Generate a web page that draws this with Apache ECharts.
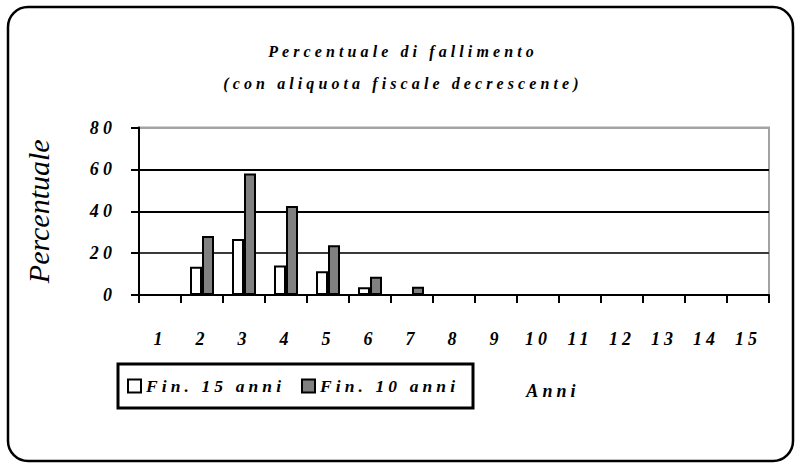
<!DOCTYPE html>
<html>
<head>
<meta charset="utf-8">
<script src="https://cdn.jsdelivr.net/npm/echarts@6/dist/echarts.min.js"></script>
<style>
  html, body { margin: 0; padding: 0; background: #fff; }
  #chart { width: 802px; height: 465px; }
  /* spaced-out lettering used throughout the chart texts */
  #chart svg text { letter-spacing: 4.1px; }
</style>
</head>
<body>
<div id="chart"></div>
<script>
// Years on the horizontal axis
const years = ['1', '2', '3', '4', '5', '6', '7', '8', '9', '10', '11', '12', '13', '14', '15'];
// Failure percentage per year, two financing horizons
const fin15 = [0, 13.5, 26.8, 14.1, 11.4, 3.7, 0, 0, 0, 0, 0, 0, 0, 0, 0];
const fin10 = [0, 28.2, 58.0, 42.5, 23.8, 8.7, 4.0, 0, 0, 0, 0, 0, 0, 0, 0];
const seriesNames = ['Fin. 15 anni', 'Fin. 10 anni'];
const titleLines = ['Percentuale di fallimento', '(con aliquota fiscale decrescente)'];
const yName = 'Percentuale';
const xName = 'Anni';
const yMin = 0, yMax = 80, yStep = 20;

const SERIF = '"Liberation Serif", "Times New Roman", serif';
const LABEL_SIZE = 18;
const labelFont = {
  fontFamily: SERIF, fontStyle: 'italic', fontWeight: 'bold', fontSize: LABEL_SIZE, color: '#000'
};

// Legend geometry: the library lays items out from unspaced text widths,
// so the gap and right padding are derived from a measurement here.
const LEG_LEFT = 118, LEG_RIGHT = 471, LEG_ICON = 13, LEG_TEXT_GAP = 5;
const LEG_PAD_L = 9, ITEM2_X = 300, LEG_LABEL_SIZE = 17.5;
const measureCtx = document.createElement('canvas').getContext('2d');
measureCtx.font = 'italic bold ' + LEG_LABEL_SIZE + 'px ' + SERIF;
const w1 = measureCtx.measureText(seriesNames[0]).width;
const w2 = measureCtx.measureText(seriesNames[1]).width;
const legGap = ITEM2_X - (LEG_LEFT + LEG_PAD_L + LEG_ICON + LEG_TEXT_GAP + w1);
const legPadR = Math.max(4, LEG_RIGHT - (ITEM2_X + LEG_ICON + LEG_TEXT_GAP + w2));

const chart = echarts.init(document.getElementById('chart'), null, { renderer: 'svg' });

const option = {
  animation: false,
  backgroundColor: '#fff',
  grid: {
    left: 139, right: 33, top: 127.5, bottom: 170,
    show: true, borderColor: '#a3a3a3', borderWidth: 2, backgroundColor: 'transparent'
  },
  xAxis: {
    type: 'category',
    data: years,
    boundaryGap: true,
    axisLine: { lineStyle: { color: '#000', width: 2 } },
    axisTick: { show: true, length: 8, alignWithLabel: false, lineStyle: { color: '#000', width: 2 } },
    axisLabel: Object.assign({ margin: 35, interval: 0 }, labelFont),
    splitLine: { show: false }
  },
  yAxis: {
    type: 'value',
    min: yMin, max: yMax, interval: yStep,
    name: yName,
    nameLocation: 'middle',
    nameRotate: 90,
    nameGap: 86,
    nameTextStyle: { fontFamily: SERIF, fontStyle: 'italic', fontSize: 30, color: '#000' },
    axisLine: { show: true, lineStyle: { color: '#000', width: 2 } },
    axisTick: { show: true, length: 8, lineStyle: { color: '#000', width: 2 } },
    axisLabel: Object.assign({ margin: 23 }, labelFont),
    splitLine: {
      show: true,
      lineStyle: { color: ['#000', '#3a3a3a', '#000', '#000', '#a3a3a3'], width: 2 }
    }
  },
  legend: {
    left: LEG_LEFT, top: 364,
    orient: 'horizontal',
    padding: [13, legPadR, 13, LEG_PAD_L],
    itemWidth: LEG_ICON, itemHeight: LEG_ICON, itemGap: legGap,
    icon: 'rect',
    borderColor: '#000', borderWidth: 3,
    backgroundColor: '#fff',
    itemStyle: { borderColor: '#000', borderWidth: 2 },
    textStyle: Object.assign({}, labelFont, { fontSize: LEG_LABEL_SIZE }),
    data: seriesNames
  },
  series: [
    {
      name: seriesNames[0], type: 'bar', data: fin15,
      barWidth: 12, barGap: '0%',
      itemStyle: { color: '#fff', borderColor: '#000', borderWidth: 2 }
    },
    {
      name: seriesNames[1], type: 'bar', data: fin10,
      barWidth: 12, barGap: '0%',
      itemStyle: { color: '#808080', borderColor: '#000', borderWidth: 2 }
    }
  ],
  graphic: [
    {
      type: 'rect', silent: true, z: 100,
      shape: { x: 8, y: 7, width: 785, height: 454, r: 20 },
      style: { fill: 'none', stroke: '#000', lineWidth: 2.5 }
    },
    {
      type: 'text', x: 403, y: 51,
      style: { text: titleLines[0], fontFamily: SERIF, fontStyle: 'italic', fontWeight: 'bold',
               fontSize: 16, fill: '#000', align: 'center', verticalAlign: 'middle' }
    },
    {
      type: 'text', x: 403, y: 83,
      style: { text: titleLines[1], fontFamily: SERIF, fontStyle: 'italic', fontWeight: 'bold',
               fontSize: 16, fill: '#000', align: 'center', verticalAlign: 'middle' }
    },
    {
      type: 'text', x: 553, y: 391,
      style: { text: xName, fontFamily: SERIF, fontStyle: 'italic', fontWeight: 'bold',
               fontSize: 18, fill: '#000', align: 'center', verticalAlign: 'middle' }
    }
  ]
};

chart.setOption(option);

// the rotated axis title keeps normal letter spacing
function plainAxisName() {
  document.querySelectorAll('#chart svg text').forEach(function (t) {
    if (t.textContent === yName) t.style.letterSpacing = '0';
  });
}
plainAxisName();
chart.on('finished', plainAxisName);
</script>
</body>
</html>
